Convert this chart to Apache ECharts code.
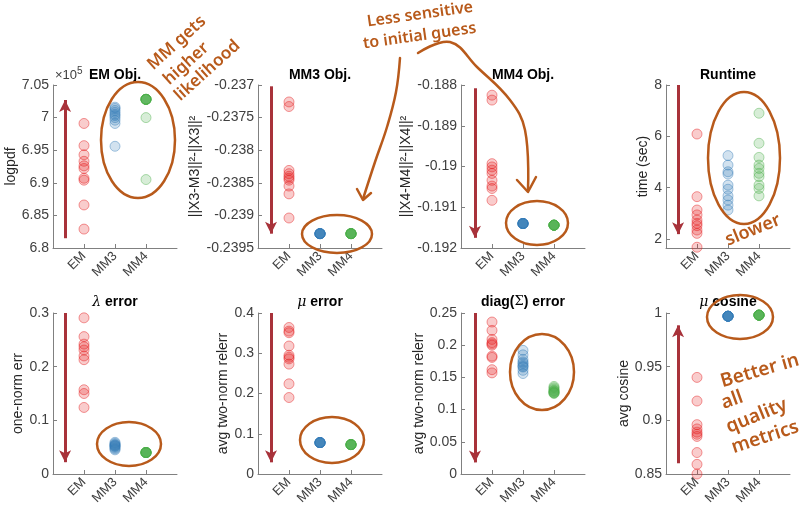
<!DOCTYPE html>
<html>
<head>
<meta charset="utf-8">
<script src="https://cdn.jsdelivr.net/npm/echarts@6/dist/echarts.min.js"></script>
<style>
html, body { margin: 0; padding: 0; background: #fff; }
#chart { width: 809px; height: 508px; }
</style>
</head>
<body>
<div id="chart"></div>
<script>
// methods on the x axis (positions 1, 2, 3)
var methods = ["EM", "MM3", "MM4"];
var methodColors = ["228,26,28", "55,126,184", "77,175,74"];

// EM Obj. (x 10^5)
var emObjEM  = [6.991, 6.957, 6.943, 6.933, 6.926, 6.922, 6.907, 6.904, 6.866, 6.829];
var emObjMM3 = [7.016, 7.014, 7.011, 7.008, 7.005, 7.003, 7.000, 6.996, 6.991, 6.956];
var emObjMM4 = [7.028, 7.028, 7.028, 7.028, 7.028, 7.028, 7.028, 7.028, 7.000, 6.905];

// MM3 Obj.
var mm3ObjEM  = [-0.23726, -0.23733, -0.23831, -0.23836, -0.23840, -0.23843, -0.23846, -0.23855, -0.23867, -0.23904];
var mm3ObjMM3 = [-0.23928, -0.23928, -0.23928, -0.23928, -0.23928, -0.23928, -0.23928, -0.23928, -0.23928, -0.23928];
var mm3ObjMM4 = [-0.23928, -0.23928, -0.23928, -0.23928, -0.23928, -0.23928, -0.23928, -0.23928, -0.23928, -0.23928];

// MM4 Obj.
var mm4ObjEM  = [-0.18825, -0.18837, -0.18993, -0.19001, -0.19009, -0.19017, -0.19034, -0.19048, -0.19054, -0.19083];
var mm4ObjMM3 = [-0.19140, -0.19140, -0.19140, -0.19140, -0.19140, -0.19140, -0.19140, -0.19140, -0.19140, -0.19140];
var mm4ObjMM4 = [-0.19144, -0.19144, -0.19144, -0.19144, -0.19144, -0.19144, -0.19144, -0.19144, -0.19144, -0.19144];

// Runtime (sec)
var runtimeEM  = [6.09, 3.65, 3.13, 2.94, 2.74, 2.61, 2.52, 2.35, 2.22, 1.68];
var runtimeMM3 = [5.25, 4.88, 4.62, 4.53, 4.10, 3.94, 3.68, 3.52, 3.32, 3.13];
var runtimeMM4 = [6.90, 5.73, 5.18, 4.88, 4.75, 4.56, 4.43, 4.10, 3.97, 3.68];

// lambda error
var lambdaErrEM  = [0.291, 0.256, 0.242, 0.237, 0.231, 0.220, 0.213, 0.157, 0.150, 0.124];
var lambdaErrMM3 = [0.059, 0.057, 0.055, 0.054, 0.053, 0.052, 0.051, 0.049, 0.047, 0.045];
var lambdaErrMM4 = [0.040, 0.040, 0.040, 0.040, 0.040, 0.040, 0.040, 0.040, 0.040, 0.040];

// mu error
var muErrEM  = [0.364, 0.355, 0.351, 0.318, 0.295, 0.290, 0.286, 0.273, 0.224, 0.190];
var muErrMM3 = [0.078, 0.078, 0.078, 0.078, 0.078, 0.078, 0.078, 0.078, 0.078, 0.078];
var muErrMM4 = [0.073, 0.073, 0.073, 0.073, 0.073, 0.073, 0.073, 0.073, 0.073, 0.073];

// diag(Sigma) error
var sigmaErrEM  = [0.236, 0.223, 0.209, 0.204, 0.202, 0.200, 0.183, 0.181, 0.162, 0.157];
var sigmaErrMM3 = [0.192, 0.185, 0.178, 0.174, 0.172, 0.169, 0.167, 0.166, 0.161, 0.156];
var sigmaErrMM4 = [0.136, 0.134, 0.132, 0.130, 0.129, 0.128, 0.127, 0.126, 0.126, 0.125];

// mu cosine
var muCosEM  = [0.940, 0.918, 0.896, 0.892, 0.889, 0.887, 0.885, 0.870, 0.859, 0.850];
var muCosMM3 = [0.997, 0.997, 0.997, 0.997, 0.997, 0.997, 0.997, 0.997, 0.997, 0.997];
var muCosMM4 = [0.998, 0.998, 0.998, 0.998, 0.998, 0.998, 0.998, 0.998, 0.998, 0.998];

// direction arrows (x position, from, to)
var arrowX    = [0.39, 0.42, 0.45, 0.39, 0.39, 0.42, 0.45, 0.39];
var arrowFrom = [6.815, -0.23702, -0.18808, 8.0, 0.3, 0.4, 0.25, 0.860];
var arrowTo   = [7.027, -0.23928, -0.19175, 2.19, 0.022, 0.029, 0.018, 0.9885];

var panels = [
    {title: "EM Obj.", yName: "logpdf", gap: 35, min: 6.8, max: 7.05, interval: 0.05, data: [emObjEM, emObjMM3, emObjMM4]},
    {title: "MM3 Obj.", yName: "||X3-M3||²-||X3||²", gap: 53, min: -0.2395, max: -0.237, interval: 0.0005, data: [mm3ObjEM, mm3ObjMM3, mm3ObjMM4]},
    {title: "MM4 Obj.", yName: "||X4-M4||²-||X4||²", gap: 48, min: -0.192, max: -0.188, interval: 0.001, data: [mm4ObjEM, mm4ObjMM3, mm4ObjMM4]},
    {title: "Runtime", yName: "time (sec)", gap: 15, min: 1.65, max: 8, ticks: [2, 4, 6, 8], data: [runtimeEM, runtimeMM3, runtimeMM4]},
    {title: "{g|λ} error", yName: "one-norm err", gap: 24, min: 0, max: 0.3, interval: 0.1, data: [lambdaErrEM, lambdaErrMM3, lambdaErrMM4]},
    {title: "{g|μ} error", yName: "avg two-norm relerr", gap: 23, min: 0, max: 0.4, interval: 0.1, data: [muErrEM, muErrMM3, muErrMM4]},
    {title: "diag({s|Σ}) error", yName: "avg two-norm relerr", gap: 32, min: 0, max: 0.25, interval: 0.05, data: [sigmaErrEM, sigmaErrMM3, sigmaErrMM4]},
    {title: "{g|μ} cosine", yName: "avg cosine", gap: 31, min: 0.85, max: 1, interval: 0.05, data: [muCosEM, muCosMM3, muCosMM4]}
];

var gridLeft = [53, 258, 461, 666];
var gridTop = [85, 313];
var gridHeight = [163, 161];
var gridWidth = 124;
var axisColor = "#808080";
var labelColor = "#404040";
var ink = "#b85a1b";
var hand = "Noto Sans";

var grids = [], xAxes = [], yAxes = [], series = [], graphics = [];

panels.forEach(function (p, i) {
    var row = Math.floor(i / 4), col = i % 4;
    grids.push({left: gridLeft[col], top: gridTop[row], width: gridWidth, height: gridHeight[row]});
    xAxes.push({
        type: "value", gridIndex: i, min: 0, max: 4,
        axisLine: {show: true, lineStyle: {color: axisColor}},
        axisTick: {show: true, inside: true, length: 4, customValues: [1, 2, 3], lineStyle: {color: axisColor}},
        axisLabel: {
            customValues: [1, 2, 3], rotate: 45, margin: 6, fontSize: 13, color: labelColor,
            fontFamily: "Liberation Sans",
            formatter: function (v) { return methods[Math.round(v) - 1]; }
        },
        splitLine: {show: false}
    });
    var y = {
        type: "value", gridIndex: i, min: p.min, max: p.max,
        name: p.yName, nameLocation: "middle", nameGap: p.gap, nameRotate: 90,
        nameTextStyle: {fontSize: 14, color: "#262626", fontFamily: "Liberation Sans"},
        axisLine: {show: true, lineStyle: {color: axisColor}},
        axisTick: {show: true, inside: true, length: 4, lineStyle: {color: axisColor}},
        axisLabel: {
            margin: 4, fontSize: 14, color: labelColor, fontFamily: "Liberation Sans",
            formatter: function (v) { return String(+v.toFixed(5)); }
        },
        splitLine: {show: false}
    };
    if (p.ticks) {
        y.axisTick.customValues = p.ticks;
        y.axisLabel.customValues = p.ticks;
    } else {
        y.interval = p.interval;
    }
    yAxes.push(y);

    p.data.forEach(function (vals, m) {
        var s = {
            type: "scatter", xAxisIndex: i, yAxisIndex: i, clip: false,
            symbol: "circle", symbolSize: 10,
            itemStyle: {
                color: "rgba(" + methodColors[m] + ",0.28)",
                borderColor: "rgba(" + methodColors[m] + ",0.55)",
                borderWidth: 1
            },
            data: vals.map(function (v) { return [m + 1, v]; })
        };
        if (m === 0) {
            s.markLine = {
                silent: true, animation: false,
                symbol: ["none", "arrow"], symbolSize: [9, 12],
                label: {show: false},
                lineStyle: {color: "#a8323a", width: 3, type: "solid"},
                emphasis: {disabled: true},
                data: [[{coord: [arrowX[i], arrowFrom[i]]}, {coord: [arrowX[i], arrowTo[i]]}]]
            };
        }
        series.push(s);
    });

    graphics.push({
        type: "text", x: gridLeft[col] + gridWidth / 2, y: row === 0 ? 75 : 302,
        style: {
            text: p.title, textAlign: "center", textVerticalAlign: "middle",
            font: "bold 14px 'Liberation Sans'", fill: "#000",
            rich: {
                g: {fontStyle: "italic", fontWeight: "normal", fontFamily: "DejaVu Serif", fontSize: 14},
                s: {fontWeight: "normal", fontFamily: "DejaVu Serif", fontSize: 13}
            }
        }
    });
});

// x10^5 exponent label
graphics.push({
    type: "text", x: 55, y: 75,
    style: {
        text: "×10{s|5}", textVerticalAlign: "middle", font: "13px 'Liberation Sans'", fill: labelColor,
        rich: {s: {fontSize: 10, verticalAlign: "top", padding: [0, 0, 8, 0]}}
    }
});

// hand-drawn loops
var loops = [
    [138, 140, 37, 58], [337, 234, 35, 19], [537, 223, 31, 22], [744, 158, 36, 66],
    [129, 444, 32, 22], [332, 440, 32, 23], [542, 372, 32, 38], [740, 317, 33, 22]
];
loops.forEach(function (l) {
    graphics.push({
        type: "ellipse", shape: {cx: l[0], cy: l[1], rx: l[2], ry: l[3]},
        style: {fill: null, stroke: ink, lineWidth: 2.5}, z: 10
    });
});

// hand-drawn arrows
function stroke(points, smooth) {
    graphics.push({
        type: "polyline", shape: {points: points, smooth: smooth || 0},
        style: {fill: null, stroke: ink, lineWidth: 2.5, lineCap: "round", lineJoin: "round"}, z: 10
    });
}
stroke([[418, 53], [450, 42], [477, 67], [510, 100], [525, 130], [528, 189]], 0.4);
stroke([[517, 180], [528, 192], [536, 177]]);
stroke([[400, 58], [396, 92], [387, 127], [375, 162], [363, 199]], 0.4);
stroke([[357, 189], [363, 200], [371, 193]]);

// handwritten notes
function note(txt, x, y, deg, size) {
    graphics.push({
        type: "text", x: x, y: y, rotation: deg * Math.PI / 180, z: 10,
        style: {text: txt, textAlign: "left", textVerticalAlign: "middle", fill: ink,
                font: "600 " + size + "px '" + hand + "'"}
    });
}
note("MM gets", 150, 67, 42, 17);
note("higher", 166, 82, 42, 17);
note("likelihood", 177, 98, 42, 17);
note("Less sensitive", 367, 22, 8, 16);
note("to initial guess", 363, 44, 8, 16);
note("slower", 726, 241, 22, 18);
note("Better in", 721, 382, 16, 19);
note("all", 722, 404, 20, 19);
note("quality", 727, 428, 22, 19);
note("metrics", 732, 448, 18, 19);

var chart = echarts.init(document.getElementById("chart"));
chart.setOption({
    animation: false,
    backgroundColor: "#fff",
    grid: grids,
    xAxis: xAxes,
    yAxis: yAxes,
    series: series,
    graphic: graphics
});
</script>
</body>
</html>
